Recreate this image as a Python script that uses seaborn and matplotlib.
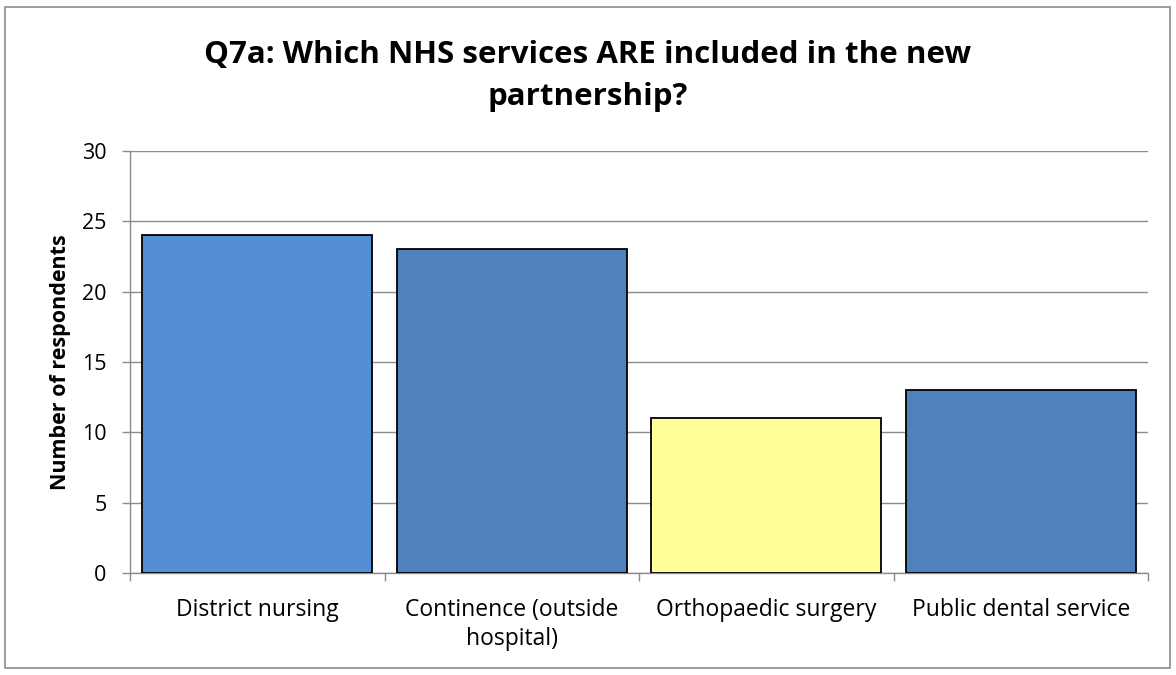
import matplotlib
matplotlib.use("Agg")
import matplotlib.pyplot as plt
from matplotlib.patches import Rectangle
import seaborn as sns
import pandas as pd

categories = ["District nursing", "Continence (outside\nhospital)", "Orthopaedic surgery", "Public dental service"]
values = [24, 23, 11, 13]
bar_colors = ["#558ED5", "#4F81BD", "#FFFF99", "#4F81BD"]
yticks = [0, 5, 10, 15, 20, 25, 30]
title = "Q7a: Which NHS services ARE included in the new\npartnership?"
ylabel = "Number of respondents"

sns.set_style("white")
plt.rcParams['font.family'] = ['Open Sans', 'DejaVu Sans']
plt.rcParams['text.color'] = 'black'
plt.rcParams['axes.labelcolor'] = 'black'
plt.rcParams['xtick.labelcolor'] = 'black'
plt.rcParams['ytick.labelcolor'] = 'black'

df = pd.DataFrame({"cat": categories, "val": values})

fig = plt.figure(figsize=(11.76, 6.75), dpi=100)
ax = fig.add_axes([130/1176, 1-573/675, (1148-130)/1176, (573-151)/675])

sns.barplot(data=df, x="cat", y="val", hue="cat", palette=bar_colors, order=categories,
            hue_order=categories, legend=False, width=0.905, edgecolor="black", linewidth=1.3,
            saturation=1, ax=ax, zorder=3)

ax.set_ylim(0, 30)
ax.set_xlim(-0.5, len(categories) - 0.5)
ax.set_yticks(yticks)
ax.set_yticklabels([str(t) for t in yticks], fontsize=15.5)
ax.yaxis.grid(True, color="#8C8C8C", linewidth=1)
ax.set_axisbelow(True)
ax.set_xlabel("")
ax.set_ylabel(ylabel, fontsize=15.5, fontweight="bold", labelpad=8)
ax.tick_params(axis="y", which="major", length=6, color="#8C8C8C", width=1, pad=11, left=True)
ax.tick_params(axis="x", which="major", length=0, pad=18, labelsize=16.5)
for lab in ax.get_xticklabels():
    lab.set_linespacing(1.3)
ax.set_xticks([i - 0.5 for i in range(len(categories) + 1)], minor=True)
ax.tick_params(axis="x", which="minor", length=6, color="#8C8C8C", width=1, bottom=True)
for s in ["top", "right"]:
    ax.spines[s].set_visible(False)
for s in ["left", "bottom"]:
    ax.spines[s].set_color("#8C8C8C")
    ax.spines[s].set_linewidth(1)

fig.text(0.5, 1 - 76/675, title, ha="center", va="center", fontsize=22.5, fontweight="bold",
         multialignment="center", linespacing=1.5)

fig.add_artist(Rectangle((5/1176, 7/675), (1170-5)/1176, (668-7)/675, transform=fig.transFigure,
                         fill=False, edgecolor="#8C8C8C", linewidth=1.2))

fig.savefig("out.png", dpi=100)
